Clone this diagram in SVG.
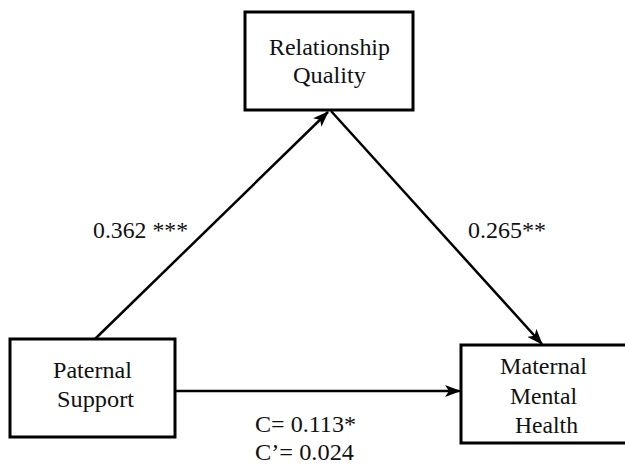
<svg xmlns="http://www.w3.org/2000/svg" width="625" height="468" viewBox="0 0 625 468">
<style>
.box{fill:#fff;stroke:#000;stroke-width:3}
.lbl{font-family:"Liberation Serif","Times New Roman",serif;font-size:23px;fill:#111}
.edge{stroke:#000;stroke-width:2.5;fill:none;marker-end:url(#ah)}
</style>
<defs>
<marker id="ah" markerUnits="userSpaceOnUse" markerWidth="16" markerHeight="12" refX="15" refY="6" orient="auto">
<path d="M0,0 L16,6 L0,12 L4,6 Z" fill="#000"/>
</marker>
</defs>
<rect width="625" height="468" fill="#fff"/>
<g id="connectors">
<line class="edge" x1="95" y1="339" x2="328" y2="112"/>
<line class="edge" x1="331" y1="111" x2="542" y2="344"/>
<line class="edge" x1="175" y1="391" x2="460" y2="391"/>
</g>
<g id="relationship-quality">
<rect class="box" x="245" y="12" width="168" height="98"/>
<text class="lbl" x="269" y="55" textLength="121" lengthAdjust="spacingAndGlyphs">Relationship</text>
<text class="lbl" x="293" y="83" textLength="73" lengthAdjust="spacingAndGlyphs">Quality</text>
</g>
<g id="paternal-support">
<rect class="box" x="10" y="339" width="165" height="98"/>
<text class="lbl" x="53" y="378" textLength="79" lengthAdjust="spacingAndGlyphs">Paternal</text>
<text class="lbl" x="57" y="407" textLength="77" lengthAdjust="spacingAndGlyphs">Support</text>
</g>
<g id="maternal-mental-health">
<rect class="box" x="461" y="345" width="170" height="98"/>
<text class="lbl" x="500" y="374" textLength="87" lengthAdjust="spacingAndGlyphs">Maternal</text>
<text class="lbl" x="510" y="404" textLength="67" lengthAdjust="spacingAndGlyphs">Mental</text>
<text class="lbl" x="515" y="433" textLength="63" lengthAdjust="spacingAndGlyphs">Health</text>
</g>
<g id="edge-labels">
<text class="lbl" x="93" y="238" textLength="95" lengthAdjust="spacingAndGlyphs">0.362 ***</text>
<text class="lbl" x="468" y="238" textLength="78" lengthAdjust="spacingAndGlyphs">0.265**</text>
<text class="lbl" x="255" y="432" textLength="101" lengthAdjust="spacingAndGlyphs">C= 0.113*</text>
<text class="lbl" x="255" y="460" textLength="99" lengthAdjust="spacingAndGlyphs">C’= 0.024</text>
</g>
</svg>
